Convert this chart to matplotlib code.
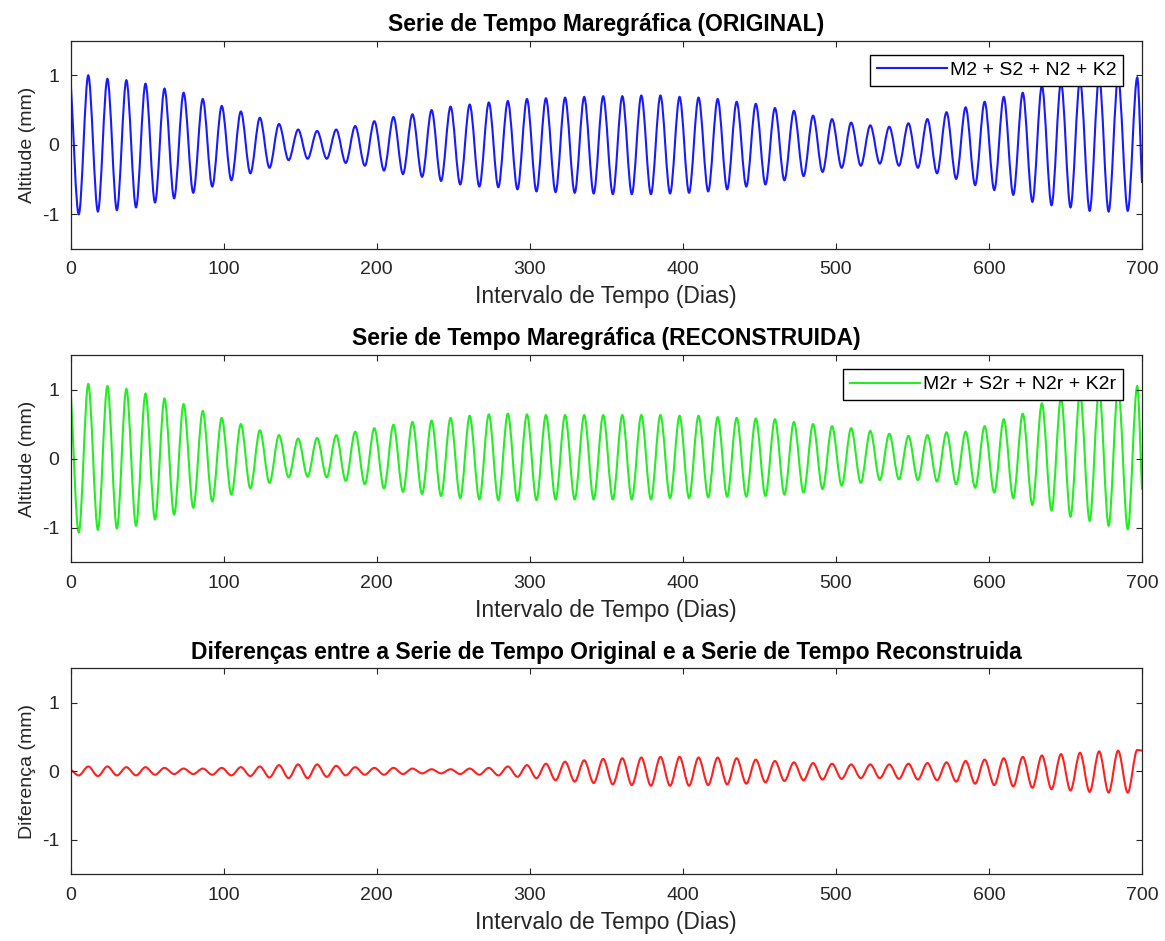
import matplotlib
matplotlib.use("Agg")
import matplotlib.pyplot as plt
from matplotlib.path import Path
from matplotlib.patches import PathPatch
from matplotlib.lines import Line2D

plt.rcParams['font.family'] = ['Liberation Sans', 'DejaVu Sans']
plt.rcParams['axes.unicode_minus'] = False

# ---- data (times in days, values in mm) ----
t_peak = [11.6, 24.1, 36.5, 49.0, 61.4, 73.9, 86.4, 98.8, 111.3, 123.7, 136.2, 148.7,
          161.1, 173.6, 186.0, 198.5, 211.0, 223.4, 235.9, 248.3, 260.8, 273.3, 285.7,
          298.2, 310.6, 323.1, 335.6, 348.0, 360.5, 372.9, 385.4, 397.9, 410.3, 422.8,
          435.2, 447.7, 460.2, 472.6, 485.1, 497.5, 510.0, 522.5, 534.9, 547.4, 559.8,
          572.3, 584.8, 597.2, 609.7, 622.1, 634.6, 647.1, 659.5, 672.0, 684.4, 696.9]
t_trough = [5.4, 17.9, 30.3, 42.8, 55.2, 67.7, 80.2, 92.6, 105.1, 117.5, 130.0, 142.5,
            154.9, 167.4, 179.8, 192.3, 204.8, 217.2, 229.7, 242.1, 254.6, 267.1, 279.5,
            292.0, 304.4, 316.9, 329.4, 341.8, 354.3, 366.7, 379.2, 391.7, 404.1, 416.6,
            429.0, 441.5, 454.0, 466.4, 478.9, 491.3, 503.8, 516.3, 528.7, 541.2, 553.6,
            566.1, 578.6, 591.0, 603.5, 615.9, 628.4, 640.9, 653.3, 665.8, 678.2, 690.7]
t_start, t_end = 0.0, 700.0

orig_peak = [1.00, 0.95, 0.93, 0.88, 0.81, 0.75, 0.66, 0.56, 0.48, 0.39, 0.30, 0.22,
             0.20, 0.22, 0.27, 0.34, 0.40, 0.44,
             0.50, 0.55, 0.58, 0.61, 0.63, 0.66, 0.67, 0.68, 0.69, 0.70, 0.70, 0.71,
             0.71, 0.69, 0.68, 0.66, 0.62, 0.59, 0.53,
             0.49, 0.42, 0.37, 0.32, 0.28, 0.26, 0.31, 0.37, 0.47, 0.54, 0.62, 0.69,
             0.75, 0.85, 0.90, 0.93, 0.97, 0.97, 0.97]
orig_trough = [-1.00, -0.96, -0.94, -0.90, -0.83, -0.77, -0.69, -0.60, -0.51, -0.41,
               -0.33, -0.22, -0.20, -0.20, -0.26, -0.30, -0.37, -0.42, -0.46,
               -0.52, -0.57, -0.60, -0.61, -0.64, -0.67, -0.68, -0.69, -0.70, -0.71,
               -0.71, -0.71, -0.70, -0.69, -0.67, -0.64, -0.60, -0.57, -0.51,
               -0.45, -0.39, -0.33, -0.30, -0.27, -0.30, -0.33, -0.41, -0.49, -0.58,
               -0.65, -0.72, -0.82, -0.87, -0.90, -0.95, -0.96, -0.95]
orig_start, orig_end = 0.97, -0.55

rec_peak = [1.08, 1.05, 1.01, 0.94, 0.87, 0.79, 0.69, 0.59, 0.50, 0.41, 0.34, 0.29,
            0.30, 0.34, 0.39, 0.44, 0.49, 0.53,
            0.55, 0.59, 0.62, 0.64, 0.65, 0.64, 0.63, 0.63, 0.63, 0.63, 0.63, 0.63,
            0.63, 0.62, 0.62, 0.60, 0.59, 0.58, 0.57,
            0.53, 0.50, 0.47, 0.44, 0.40, 0.36, 0.33, 0.34, 0.38, 0.39, 0.47, 0.57,
            0.65, 0.80, 0.88, 0.95, 1.00, 1.03, 1.05]
rec_trough = [-1.07, -1.03, -1.01, -0.97, -0.88, -0.81, -0.71, -0.62, -0.52, -0.43,
              -0.35, -0.27, -0.26, -0.27, -0.32, -0.37, -0.43, -0.48, -0.51,
              -0.54, -0.57, -0.59, -0.60, -0.61, -0.60, -0.59, -0.59, -0.59, -0.59,
              -0.59, -0.59, -0.57, -0.57, -0.56, -0.55, -0.55, -0.54, -0.52,
              -0.49, -0.44, -0.39, -0.35, -0.31, -0.30, -0.31, -0.33, -0.37, -0.42,
              -0.49, -0.57, -0.67, -0.75, -0.84, -0.90, -0.97, -1.02]
rec_start, rec_end = 1.05, -0.45

diff_peak = [0.07, 0.07, 0.06, 0.06, 0.05, 0.04, 0.04, 0.05, 0.06, 0.07, 0.09, 0.10,
             0.10, 0.08, 0.06, 0.05, 0.05, 0.04, 0.03, 0.03, 0.04, 0.05, 0.07, 0.09,
             0.11, 0.14, 0.16, 0.18, 0.19, 0.20, 0.21, 0.21, 0.20, 0.20, 0.19, 0.17,
             0.15, 0.13, 0.12, 0.11, 0.10, 0.10, 0.10, 0.11, 0.12, 0.13, 0.15, 0.17,
             0.19, 0.21, 0.23, 0.25, 0.27, 0.29, 0.30, 0.31]
diff_trough = [-0.06, -0.07, -0.06, -0.06, -0.05, -0.04, -0.04, -0.05, -0.06, -0.07,
               -0.09, -0.10, -0.10, -0.08, -0.06, -0.05, -0.05, -0.04, -0.03, -0.03,
               -0.04, -0.05, -0.06, -0.08, -0.10, -0.13, -0.15, -0.17, -0.19, -0.20,
               -0.21, -0.21, -0.21, -0.20, -0.19, -0.18, -0.16, -0.14, -0.13, -0.12,
               -0.11, -0.10, -0.10, -0.11, -0.12, -0.13, -0.15, -0.18, -0.20, -0.22,
               -0.24, -0.26, -0.28, -0.30, -0.31, -0.31]
diff_start, diff_end = 0.03, 0.30

x_ticks = [0, 100, 200, 300, 400, 500, 600, 700]
y_ticks = [-1, 0, 1]

titles = ["Serie de Tempo Maregráfica (ORIGINAL)",
          "Serie de Tempo Maregráfica (RECONSTRUIDA)",
          "Diferenças entre a Serie de Tempo Original e a Serie de Tempo Reconstruida"]
ylabels = ["Altitude (mm)", "Altitude (mm)", "Diferença (mm)"]
xlabel = "Intervalo de Tempo (Dias)"
legend_labels = ["M2 + S2 + N2 + K2", "M2r + S2r + N2r + K2r", None]


def build(peaks, troughs, v0, v1):
    ts, vs = [t_start], [v0]
    for tt, vt, tp, vp in zip(t_trough, troughs, t_peak, peaks):
        ts += [tt, tp]
        vs += [vt, vp]
    ts.append(t_end)
    vs.append(v1)
    return ts, vs


def smooth_path(ts, vs):
    """Cubic Bezier path through the extrema (horizontal tangents at extrema)."""
    n = len(ts)
    verts = [(ts[0], vs[0])]
    codes = [Path.MOVETO]
    for j in range(1, n):
        dt = ts[j] - ts[j - 1]
        dv = vs[j] - vs[j - 1]
        c1y = vs[j - 1] + (dv / 3 if j - 1 == 0 else 0.0)
        c2y = vs[j] - (dv / 3 if j == n - 1 else 0.0)
        verts += [(ts[j - 1] + dt / 3, c1y), (ts[j] - dt / 3, c2y), (ts[j], vs[j])]
        codes += [Path.CURVE4] * 3
    return Path(verts, codes)


series = [build(orig_peak, orig_trough, orig_start, orig_end),
          build(rec_peak, rec_trough, rec_start, rec_end),
          build(diff_peak, diff_trough, diff_start, diff_end)]
colors = ["#1a1aff", "#22ee22", "#ff2020"]

W, H = 1165, 941
fig = plt.figure(figsize=(W / 100, H / 100), dpi=100)
boxes = [(70.5, 40.7, 1142, 249), (70.5, 355, 1142, 562.3), (70.5, 668.3, 1142, 874.3)]
gray = "#262626"

for i in range(3):
    x0, y0, x1, y1 = boxes[i]
    ax = fig.add_axes([x0 / W, 1 - y1 / H, (x1 - x0) / W, (y1 - y0) / H])
    ts, vs = series[i]
    ax.add_patch(PathPatch(smooth_path(ts, vs), fill=False, edgecolor=colors[i],
                           lw=1.5, transform=ax.transData, clip_on=True))
    ax.set_xlim(0, 700)
    ax.set_ylim(-1.5, 1.5)
    ax.set_xticks(x_ticks)
    ax.set_yticks(y_ticks)
    ax.tick_params(direction='in', length=4.5, width=0.8, color=gray, labelcolor=gray,
                   labelsize=14, top=True, right=True)
    ax.tick_params(axis='x', pad=9)
    ax.tick_params(axis='y', pad=8)
    for s in ax.spines.values():
        s.set_color(gray)
        s.set_linewidth(0.9)
    ax.set_title(titles[i], fontsize=16.5, fontweight='bold', color='black', pad=7)
    ax.set_xlabel(xlabel, fontsize=16.5, color=gray, labelpad=5)
    ax.set_ylabel(ylabels[i], fontsize=14, color=gray, labelpad=4)
    if legend_labels[i]:
        handle = Line2D([], [], color=colors[i], lw=1.5)
        aw, ah = x1 - x0, y1 - y0
        leg = ax.legend([handle], [legend_labels[i]], loc='upper right',
                        bbox_to_anchor=(1 - 19 / aw, 1 - 14 / ah), fontsize=14,
                        handlelength=3.6, handletextpad=0.15, borderpad=0.35,
                        borderaxespad=0.0, fancybox=False, framealpha=1,
                        edgecolor='black')
        leg.get_frame().set_linewidth(1.0)

fig.savefig("out.png", dpi=100)
